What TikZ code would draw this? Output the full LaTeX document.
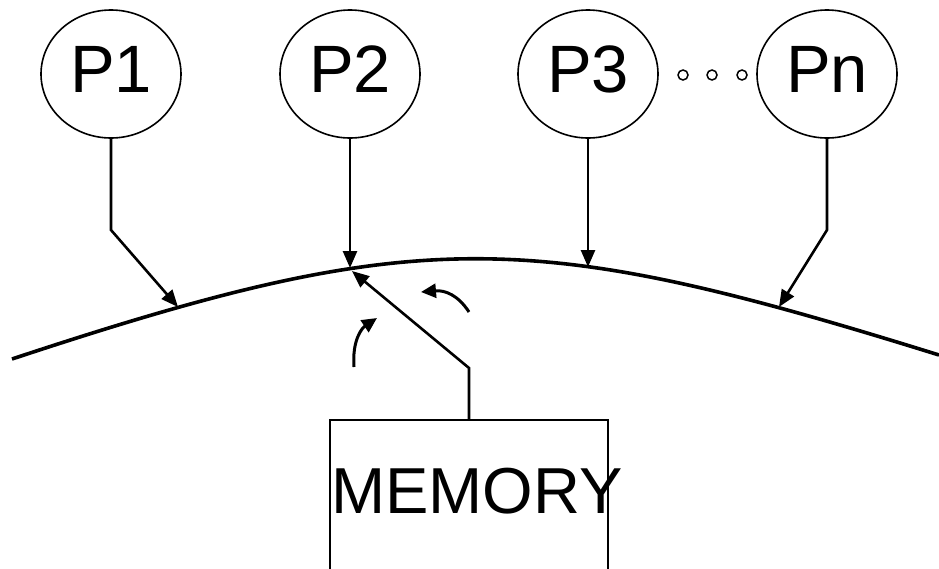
\documentclass[tikz,border=0pt]{standalone}
\usepackage{fontspec}
\setmainfont{Liberation Sans}
\usetikzlibrary{shapes.geometric,arrows.meta}

\begin{document}
\begin{tikzpicture}[x=1pt,y=-1pt,
    proc/.style={draw,ellipse,line width=1.6pt,minimum width=140pt,minimum height=128pt,inner sep=0pt,font=\fontsize{67}{67}\selectfont,text depth=10pt},
    link/.style={line width=2.6pt,-{Triangle[length=17pt,width=14pt]}},
    flow/.style={line width=3pt,-{Triangle[length=15pt,width=14pt]}},
    dot/.style={draw,circle,line width=1.5pt,minimum size=10pt,inner sep=0pt},
    membox/.style={draw,rectangle,line width=2.4pt,minimum width=278pt,minimum height=160pt},
    memtext/.style={font=\fontsize{65}{65}\selectfont,inner sep=0pt}]
      \useasboundingbox (0,0) rectangle (939,568);
      \clip (0,0) rectangle (939,568);
      \node[proc] (p1) at (111,74) {P1};
      \node[proc] (p2) at (350,74) {P2};
      \node[proc] (p3) at (588,74) {P3};
      \node[proc] (pn) at (827,74) {Pn};
      \foreach \x/\n in {683/d1,712/d2,742/d3}
        \node[dot] (\n) at (\x,75) {};
      % the bus
      \draw[line width=3.6pt] (12,359) .. controls (420,224) and (531,228) .. (939,355);
      \coordinate (b1) at (178,307);
      \coordinate (b2) at (350,268);
      \coordinate (b3) at (588,267);
      \coordinate (bn) at (779,307);
      \coordinate (bm) at (352,271);
      \draw[link] (p1.south) -- (111,230) -- (b1);
      \draw[link] (p2.south) -- (b2);
      \draw[link] (p3.south) -- (b3);
      \draw[link] (pn.south) -- (827,230) -- (bn);
      % memory
      \node[membox] (mem) at (469,500) {};
      \node[memtext,anchor=base west] (memlabel) at (331,513) {MEMORY};
      \draw[link] (mem.north) -- (469,368) -- (bm);
      \draw[flow] (354,367) .. controls (352,340) and (362,328) .. (377,318);
      \draw[flow] (469,312) .. controls (458,295) and (445,290) .. (421,292);
\end{tikzpicture}
\end{document}
